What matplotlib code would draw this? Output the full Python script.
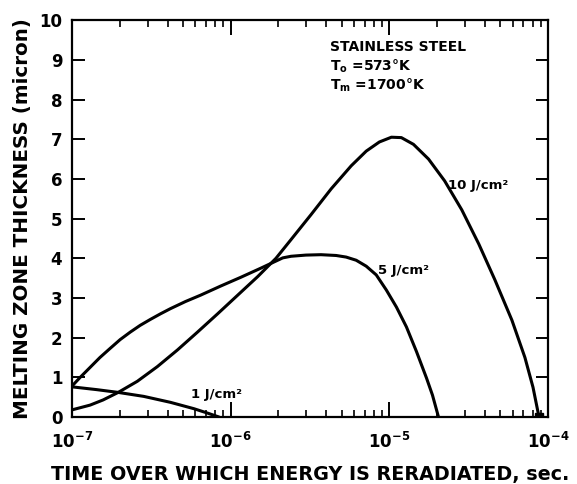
import matplotlib
matplotlib.use('Agg')
import matplotlib.pyplot as plt
from matplotlib.ticker import FixedLocator, LogLocator, NullFormatter

# melting zone thickness (micron) vs. time over which energy is reradiated (sec)
# values
t_10 = [1.00e-7, 1.30e-7, 1.57e-7, 1.955e-7, 2.58e-7, 3.45e-7, 4.62e-7, 6.18e-7,
        8.27e-7, 1.107e-6, 1.482e-6, 1.93e-6, 2.40e-6, 3.21e-6, 4.30e-6, 5.75e-6,
        7.15e-6, 8.65e-6, 1.03e-5, 1.19e-5, 1.419e-5, 1.765e-5, 2.23e-5, 2.86e-5,
        3.66e-5, 4.62e-5, 5.92e-5, 7.15e-5, 8.04e-5, 8.77e-5]
y_10 = [0.18, 0.30, 0.43, 0.62, 0.90, 1.27, 1.69, 2.14,
        2.60, 3.07, 3.54, 4.00, 4.47, 5.10, 5.75, 6.33,
        6.70, 6.93, 7.05, 7.04, 6.87, 6.50, 5.95, 5.22,
        4.36, 3.46, 2.44, 1.50, 0.75, 0.0]

t_5 = [1.00e-7, 1.12e-7, 1.30e-7, 1.50e-7, 1.74e-7, 2.01e-7, 2.33e-7, 2.69e-7,
       3.12e-7, 3.61e-7, 4.17e-7, 5.19e-7, 6.46e-7, 8.65e-7, 1.157e-6, 1.548e-6,
       1.93e-6, 2.13e-6, 2.40e-6, 2.98e-6, 3.71e-6, 4.62e-6, 5.34e-6, 6.18e-6,
       7.15e-6, 8.27e-6, 9.57e-6, 1.108e-5, 1.281e-5, 1.482e-5, 1.715e-5, 1.87e-5,
       2.04e-5]
y_5 = [0.78, 0.99, 1.25, 1.50, 1.73, 1.95, 2.14, 2.31,
       2.46, 2.60, 2.73, 2.91, 3.07, 3.30, 3.52, 3.75,
       3.93, 4.01, 4.05, 4.08, 4.09, 4.07, 4.03, 3.95,
       3.80, 3.58, 3.20, 2.77, 2.27, 1.65, 0.98, 0.55,
       0.0]

t_1 = [1.00e-7, 1.43e-7, 1.955e-7, 2.83e-7, 4.17e-7, 5.86e-7, 7.13e-7, 8.44e-7]
y_1 = [0.76, 0.69, 0.62, 0.52, 0.37, 0.21, 0.10, 0.0]

x_ticks = [1e-7, 1e-6, 1e-5, 1e-4]
x_ticklabels = [r'$\mathbf{10^{-7}}$', r'$\mathbf{10^{-6}}$',
                r'$\mathbf{10^{-5}}$', r'$\mathbf{10^{-4}}$']
y_ticks = list(range(0, 11))

fig = plt.figure(figsize=(5.77, 4.84), dpi=100)
ax = fig.add_axes([0.1248, 0.1384, 0.825, 0.820])

line_kw = dict(color='black', lw=2.2, solid_joinstyle='round', solid_capstyle='round')
ax.plot(t_10, y_10, **line_kw)
ax.plot(t_5, y_5, **line_kw)
ax.plot(t_1, y_1, **line_kw)
# little blob where the 10 J/cm2 curve hits the axis
ax.plot(t_10[-1:], y_10[-1:], marker='s', ms=6, color='black')

ax.set_xscale('log')
ax.set_xlim(1e-7, 1e-4)
ax.set_ylim(0, 10)

ax.xaxis.set_major_locator(FixedLocator(x_ticks))
ax.set_xticklabels(x_ticklabels)
ax.xaxis.set_minor_locator(LogLocator(base=10, subs=range(2, 10)))
ax.xaxis.set_minor_formatter(NullFormatter())
ax.set_yticks(y_ticks)
ax.set_yticklabels([str(v) for v in y_ticks], fontweight='bold')

for s in ax.spines.values():
    s.set_linewidth(1.6)

ax.tick_params(axis='x', which='major', direction='in', top=True, length=11,
               width=1.4, pad=11, labelsize=12)
ax.tick_params(axis='x', which='minor', direction='in', top=True, length=5,
               width=1.2)
ax.tick_params(axis='y', which='major', direction='in', right=True, length=9,
               width=1.4, pad=7, labelsize=12)

ax.set_xlabel('TIME OVER WHICH ENERGY IS RERADIATED, sec.', fontsize=13.8,
              fontweight='bold', labelpad=9)
ax.set_ylabel('MELTING ZONE THICKNESS (micron)', fontsize=14.3,
              fontweight='bold', labelpad=5)

# curve labels
ax.text(5.6e-7, 0.48, '1 J/cm²', fontsize=9.5, fontweight='bold')
ax.text(8.5e-6, 3.6, '5 J/cm²', fontsize=9.5, fontweight='bold')
ax.text(2.35e-5, 5.75, '10 J/cm²', fontsize=9.5, fontweight='bold')

# material block
ax.text(0.542, 0.922, 'STAINLESS STEEL', transform=ax.transAxes,
        fontsize=10, fontweight='bold')
ax.text(0.542, 0.872, r'T$_{\mathbf{o}}$ =573°K', transform=ax.transAxes,
        fontsize=10, fontweight='bold')
ax.text(0.542, 0.824, r'T$_{\mathbf{m}}$ =1700°K', transform=ax.transAxes,
        fontsize=10, fontweight='bold')

fig.savefig('out.png', dpi=100)
